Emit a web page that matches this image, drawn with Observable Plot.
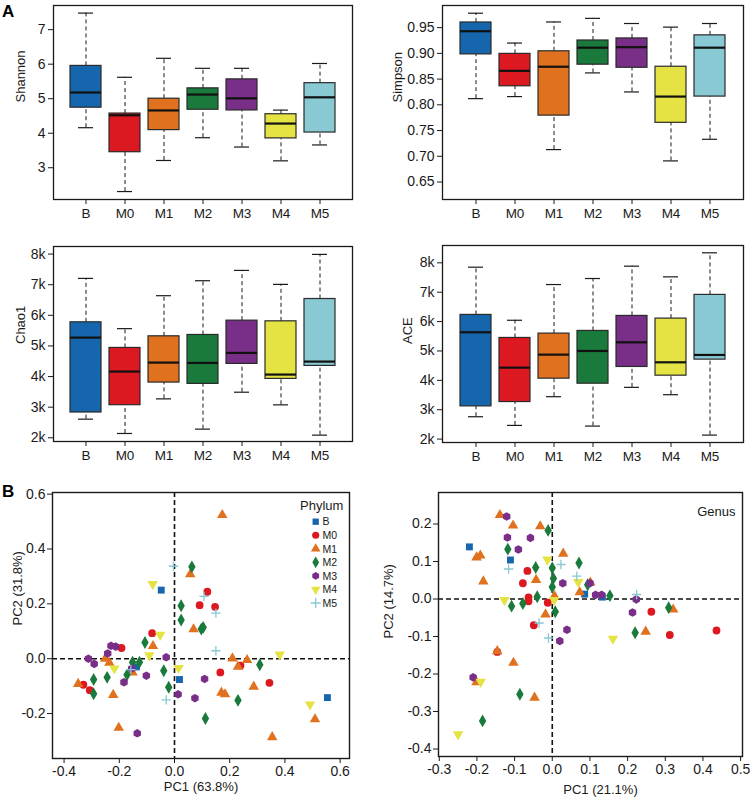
<!DOCTYPE html>
<html><head><meta charset="utf-8">
<script src="https://cdn.jsdelivr.net/npm/d3@7"></script>
<script src="https://cdn.jsdelivr.net/npm/@observablehq/plot@0.6"></script>
<style>
html,body{margin:0;padding:0;background:#fff;}
#root{position:relative;width:750px;height:802px;background:#fff;font-family:"Liberation Sans",Arial,sans-serif;overflow:hidden;}
.panel{position:absolute;}
.box g[aria-label="y-axis tick label"] text, .box g[aria-label="y-axis"] text{font-size:14px;}
.box g[aria-label="x-axis tick label"] text, .box g[aria-label="x-axis"] text{font-size:13.5px;}
.pca g[aria-label="y-axis tick label"] text, .pca g[aria-label="y-axis"] text,
.pca g[aria-label="x-axis tick label"] text, .pca g[aria-label="x-axis"] text{font-size:14px;}
</style></head><body><div id="root"></div>
<script>
const FONT = '"Liberation Sans", Arial, sans-serif';
const groups = ["B","M0","M1","M2","M3","M4","M5"];
const groupColors = ["#1666ae","#dc1820","#e0711f","#1a7a3b","#792e88","#e5e343","#88c9d3"];

// [lower whisker, Q1, median, Q3, upper whisker] per group
const shannonStats = [
 [4.16,4.74,5.18,5.95,7.48],[2.31,3.45,4.52,4.57,5.62],[3.21,4.09,4.66,5.00,6.17],
 [3.87,4.68,5.12,5.30,5.88],[3.60,4.66,5.01,5.56,5.88],[3.20,3.85,4.28,4.55,4.67],[3.66,4.02,5.04,5.45,6.02]];
const simpsonStats = [
 [0.812,0.898,0.943,0.960,0.978],[0.816,0.836,0.866,0.899,0.920],[0.713,0.779,0.874,0.904,0.961],
 [0.862,0.878,0.911,0.925,0.968],[0.825,0.872,0.912,0.929,0.958],[0.691,0.765,0.816,0.874,0.951],[0.733,0.816,0.911,0.935,0.958]];
const chao1Stats = [
 [2609,2826,5272,5772,7206],[2141,3065,4163,4935,5565],[3271,3804,4456,5315,6641],
 [2283,3761,4445,5359,7130],[3489,4413,4772,5826,7467],[3076,3924,4065,5804,7011],[2087,4348,4489,6533,7990]];
const aceStats = [
 [2761,3114,5636,6227,7852],[2466,3261,4432,5443,6045],[3443,4057,4875,5591,7261],
 [2443,3886,5000,5682,7466],[3761,4455,5295,6193,7886],[3511,4159,4614,6102,7523],[2136,4705,4864,6909,8341]];

const shannonTicks = [3,4,5,6,7];
const simpsonTicks = [0.65,0.70,0.75,0.80,0.85,0.90,0.95];
const richTicks = [2000,3000,4000,5000,6000,7000,8000];

// PCA points: [group, PC1, PC2]
const phylumPoints = [
 ["B",-0.048,0.25],["B",-0.138,-0.03],["B",0.018,-0.076],["B",0.554,-0.142],
 ["M0",0.119,0.244],["M0",0.091,0.195],["M0",0.147,0.189],["M0",-0.081,0.093],["M0",-0.192,0.039],["M0",-0.330,-0.095],["M0",-0.307,-0.115],["M0",0.166,-0.050],["M0",0.239,-0.025],["M0",0.344,-0.088],
 ["M1",0.057,0.308],["M1",0.069,0.107],["M1",-0.078,0.046],["M1",-0.251,0.0],["M1",-0.236,-0.015],["M1",-0.152,-0.05],["M1",-0.349,-0.092],["M1",-0.222,-0.132],["M1",0.210,0.001],["M1",0.263,-0.005],["M1",0.230,-0.029],["M1",0.287,-0.102],["M1",0.170,-0.124],["M1",0.183,-0.130],["M1",0.509,-0.221],["M1",-0.202,-0.252],["M1",0.354,-0.286],["M1",0.173,0.524],
 ["M2",0.063,0.335],["M2",0.024,0.193],["M2",0.024,0.141],["M2",0.097,0.108],["M2",0.104,0.114],["M2",-0.107,0.059],["M2",-0.152,-0.013],["M2",-0.127,-0.013],["M2",-0.039,-0.044],["M2",-0.172,-0.059],["M2",-0.244,-0.068],["M2",-0.293,-0.076],["M2",-0.293,-0.128],["M2",-0.021,-0.104],["M2",0.112,-0.218],["M2",0.309,-0.022],["M2",0.230,-0.152],
 ["M3",-0.230,0.047],["M3",-0.213,0.044],["M3",-0.242,0.019],["M3",-0.030,0.005],["M3",-0.312,0.0],["M3",-0.291,-0.019],["M3",-0.155,-0.036],["M3",-0.102,-0.062],["M3",-0.183,-0.086],["M3",0.013,-0.130],["M3",0.074,-0.144],["M3",0.109,-0.074],["M3",-0.135,-0.272],
 ["M4",-0.079,0.272],["M4",-0.052,0.087],["M4",-0.091,0.012],["M4",-0.218,-0.036],["M4",0.015,-0.034],["M4",0.381,0.015],["M4",0.491,-0.167],
 ["M5",-0.004,0.337],["M5",0.107,0.227],["M5",0.150,0.166],["M5",0.150,0.029],["M5",-0.158,-0.04],["M5",-0.030,-0.150]
];
const genusPoints = [
 ["B",-0.220,0.139],["B",-0.111,0.104],["B",0.086,0.013],["B",0.133,0.005],
 ["M0",-0.066,0.075],["M0",-0.078,0.042],["M0",-0.063,0.004],["M0",-0.063,-0.006],["M0",-0.012,-0.010],["M0",-0.049,-0.070],["M0",0.263,-0.034],["M0",0.312,-0.096],["M0",0.436,-0.084],["M0",-0.146,-0.141],
 ["M1",-0.139,0.224],["M1",-0.104,0.196],["M1",-0.032,0.194],["M1",-0.201,0.111],["M1",-0.191,0.116],["M1",0.029,0.121],["M1",-0.183,0.047],["M1",-0.043,0.051],["M1",0.101,0.044],["M1",0.073,0.018],["M1",0.006,0.008],["M1",-0.018,-0.041],["M1",0.321,-0.028],["M1",0.248,-0.087],["M1",-0.146,-0.139],["M1",-0.103,-0.170],["M1",-0.201,-0.222],["M1",-0.047,-0.263],
 ["M2",-0.011,0.183],["M2",-0.118,0.133],["M2",0.071,0.096],["M2",-0.044,0.084],["M2",0.0,0.083],["M2",0.003,0.055],["M2",0.094,0.038],["M2",0.0,0.032],["M2",0.153,0.009],["M2",-0.040,0.006],["M2",-0.108,-0.019],["M2",-0.078,-0.012],["M2",0.008,-0.034],["M2",0.309,-0.023],["M2",0.220,-0.090],["M2",-0.086,-0.254],["M2",-0.185,-0.325],
 ["M3",-0.121,0.220],["M3",-0.119,0.164],["M3",-0.058,0.163],["M3",-0.090,0.132],["M3",0.028,0.042],["M3",0.100,0.042],["M3",0.115,0.011],["M3",0.131,0.011],["M3",0.223,-0.001],["M3",0.213,-0.036],["M3",0.039,-0.082],["M3",0.020,-0.112],["M3",-0.210,-0.209],
 ["M4",-0.013,0.105],["M4",0.069,0.045],["M4",-0.127,-0.003],["M4",0.005,-0.003],["M4",0.161,-0.106],["M4",-0.190,-0.221],["M4",-0.250,-0.361],
 ["M5",0.023,0.092],["M5",-0.116,0.080],["M5",0.065,0.061],["M5",0.224,0.012],["M5",-0.035,-0.064],["M5",-0.010,-0.104]
];
const phylumXTicks = [-0.4,-0.2,0,0.2,0.4,0.6];
const phylumYTicks = [-0.2,0,0.2,0.4,0.6];
const genusXTicks = [-0.3,-0.2,-0.1,0,0.1,0.2,0.3,0.4,0.5];
const genusYTicks = [-0.4,-0.3,-0.2,-0.1,0,0.1,0.2];

// custom symbols
const triangleDown = {draw(ctx, size){const y=-Math.sqrt(size/(Math.sqrt(3)*3));ctx.moveTo(0,-y*2);ctx.lineTo(-Math.sqrt(3)*y,y);ctx.lineTo(Math.sqrt(3)*y,y);ctx.closePath();}};
const hexagon = {draw(ctx, size){const r=Math.sqrt(size/(3*Math.sqrt(3)/2));for(let k=0;k<6;k++){const a=Math.PI/6+k*Math.PI/3;const px=r*Math.cos(a),py=r*Math.sin(a);if(k===0)ctx.moveTo(px,py);else ctx.lineTo(px,py);}ctx.closePath();}};
const groupSymbols = [d3.symbolSquare, d3.symbolCircle, d3.symbolTriangle, d3.symbolDiamond, hexagon, triangleDown, d3.symbolPlus];

const root = document.getElementById("root");
function place(node, left, top, cls){const d=document.createElement("div");d.className="panel "+cls;d.style.left=left+"px";d.style.top=top+"px";d.appendChild(node);root.appendChild(d);}

function boxPanel(stats, o){
  const rows = groups.map((g,i)=>({group:g, lo:stats[i][0], q1:stats[i][1], med:stats[i][2], q3:stats[i][3], hi:stats[i][4]}));
  return Plot.plot({
    width:375, height:232, marginLeft:o.mL, marginRight:o.mR, marginTop:o.mT, marginBottom:o.mB,
    style:{fontFamily:FONT, fontSize:"14px", color:"#1a1a1a", background:"transparent"},
    x:{type:"band", domain:groups, paddingInner:0.2, paddingOuter:0.38, label:null, tickSize:5, tickPadding:4},
    y:{domain:o.domain, ticks:o.ticks, tickFormat:o.fmt, label:null, tickSize:5, tickPadding:3},
    color:{domain:groups, range:groupColors},
    marks:[
      Plot.ruleX(rows,{x:"group", y1:"lo", y2:"q1", stroke:"#1a1a1a", strokeWidth:1, strokeDasharray:"4,3"}),
      Plot.ruleX(rows,{x:"group", y1:"q3", y2:"hi", stroke:"#1a1a1a", strokeWidth:1, strokeDasharray:"4,3"}),
      Plot.tickY(rows,{x:"group", y:"lo", stroke:"#1a1a1a", strokeWidth:1.2, insetLeft:8, insetRight:8}),
      Plot.tickY(rows,{x:"group", y:"hi", stroke:"#1a1a1a", strokeWidth:1.2, insetLeft:8, insetRight:8}),
      Plot.barY(rows,{x:"group", y1:"q1", y2:"q3", fill:"group", stroke:"#2a2a2a", strokeWidth:1.2}),
      Plot.tickY(rows,{x:"group", y:"med", stroke:"#111", strokeWidth:2.2}),
      Plot.frame({stroke:"#1a1a1a", strokeWidth:1.3}),
      Plot.text([o.label],{text:d=>d, frameAnchor:"left", dx:o.labelDx, rotate:-90, fontSize:13})
    ]
  });
}

function pcaPanel(points, o){
  const rows = points.map(([g,x,y])=>({group:g,x,y}));
  const filled = rows.filter(d=>d.group!=="M5");
  const plus = rows.filter(d=>d.group==="M5");
  const extra = o.corner ? [Plot.text([o.corner],{text:d=>d, frameAnchor:"top-right", textAnchor:"end", dx:-7, dy:14, fontSize:13})] : [];
  return Plot.plot({
    width:375, height:332, marginLeft:o.mL, marginRight:o.mR, marginTop:o.mT, marginBottom:o.mB,
    style:{fontFamily:FONT, fontSize:"14px", color:"#1a1a1a", background:"transparent"},
    x:{domain:o.xDomain, ticks:o.xTicks, tickFormat:d=>d.toFixed(1), label:null, tickSize:5, tickPadding:3},
    y:{domain:o.yDomain, ticks:o.yTicks, tickFormat:d=>d.toFixed(1), label:null, tickSize:5, tickPadding:2},
    color:{domain:groups, range:groupColors},
    symbol:{domain:groups, range:groupSymbols},
    marks:[
      Plot.ruleX([0],{stroke:"#111", strokeWidth:1.6, strokeDasharray:"5,3"}),
      Plot.ruleY([0],{stroke:"#111", strokeWidth:1.6, strokeDasharray:"5,3"}),
      Plot.dot(filled,{x:"x", y:"y", symbol:"group", fill:"group", r:3.9}),
      Plot.dot(plus,{x:"x", y:"y", symbol:"group", stroke:"group", r:3.1, strokeWidth:1.3}),
      Plot.frame({stroke:"#1a1a1a", strokeWidth:1.4}),
      Plot.text([o.yLabel],{text:d=>d, frameAnchor:"left", dx:o.yLabelDx, dy:o.yLabelDy||0, rotate:-90, fontSize:13}),
      Plot.text([o.xLabel],{text:d=>d, frameAnchor:"bottom", dx:o.xLabelDx||0, dy:o.xLabelDy, fontSize:13}),
      ...extra
    ]
  });
}

const kfmt = d=>(d/1000)+"k";
place(boxPanel(shannonStats,{domain:[2.08,7.70], ticks:shannonTicks, fmt:d=>String(d), label:"Shannon", labelDx:-33, mL:53, mR:23, mT:5, mB:33}), 0, 0, "box");
place(boxPanel(simpsonStats,{domain:[0.616,0.993], ticks:simpsonTicks, fmt:d=>d.toFixed(2), label:"Simpson", labelDx:-45, mL:67, mR:7, mT:5, mB:33}), 375, 0, "box");
place(boxPanel(chao1Stats,{domain:[1879,8248], ticks:richTicks, fmt:kfmt, label:"Chao1", labelDx:-33, mL:53, mR:23, mT:11, mB:26}), 0, 235, "box");
place(boxPanel(aceStats,{domain:[1884,8590], ticks:richTicks, fmt:kfmt, label:"ACE", labelDx:-35, mL:67, mR:7, mT:10, mB:25}), 375, 235, "box");
place(pcaPanel(phylumPoints,{xDomain:[-0.442,0.634], yDomain:[-0.364,0.606], xTicks:phylumXTicks, yTicks:phylumYTicks, xLabel:"PC1 (63.8%)", yLabel:"PC2 (31.8%)", xLabelDy:32, yLabelDx:-35, mL:52, mR:26, mT:22, mB:44}), 0, 470, "pca");
place(pcaPanel(genusPoints,{xDomain:[-0.302,0.505], yDomain:[-0.42,0.284], xTicks:genusXTicks, yTicks:genusYTicks, xLabel:"PC1 (21.1%)", yLabel:"PC2 (14.7%)", xLabelDy:37, xLabelDx:10, yLabelDx:-50, yLabelDy:14, corner:"Genus", mL:63, mR:8, mT:22, mB:46}), 375, 470, "pca");

// overlay: panel letters and phylum legend
const ov = d3.create("svg").attr("width",750).attr("height",802).style("position","absolute").style("left","0px").style("top","0px").style("pointer-events","none").style("font-family",FONT);
ov.append("text").attr("x",2).attr("y",16.5).attr("font-size",17).attr("font-weight","bold").text("A");
ov.append("text").attr("x",2).attr("y",497).attr("font-size",17).attr("font-weight","bold").text("B");
const lg = ov.append("g");
lg.append("text").attr("x",300).attr("y",509.5).attr("font-size",13).attr("fill","#1a1a1a").text("Phylum");
groups.forEach((g,i)=>{
  const cy = 521.7 + i*13.55;
  const isPlus = g==="M5";
  lg.append("path").attr("transform",`translate(315.7,${cy})`)
    .attr("d", d3.symbol().type(groupSymbols[i]).size(isPlus?34:40)())
    .attr("fill", isPlus?"none":groupColors[i]).attr("stroke", isPlus?groupColors[i]:"none").attr("stroke-width",1.3);
  lg.append("text").attr("x",322.5).attr("y",cy+3.7).attr("font-size",10.5).attr("fill","#1a1a1a").text(g);
});
root.appendChild(ov.node());
</script></body></html>
